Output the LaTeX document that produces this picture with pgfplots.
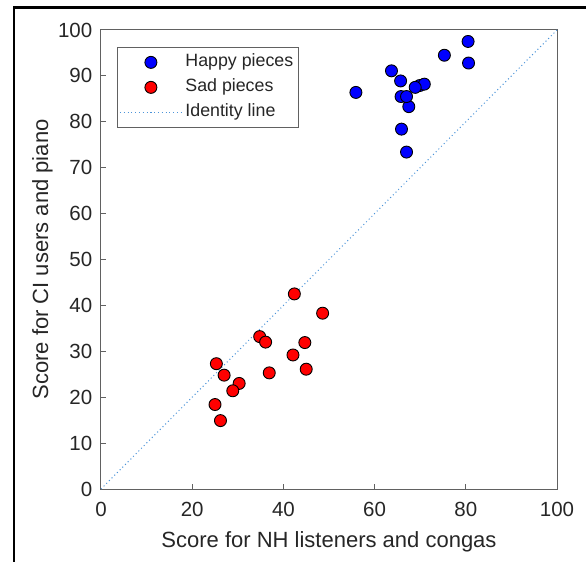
\documentclass[border=0pt]{standalone}
\usepackage{fontspec}
\setmainfont{Liberation Sans}
\usepackage{pgfplots}
\pgfplotsset{compat=1.18}
\definecolor{txt}{rgb}{0.15,0.15,0.15}
\definecolor{axc}{rgb}{0.38,0.38,0.38}
\definecolor{idl}{rgb}{0.3,0.58,0.85}
\begin{document}
\begin{tikzpicture}[x=1bp,y=1bp]
\useasboundingbox (-101,-73) rectangle (485,489);
\draw[line width=2.2bp] (-87,-73) -- (-87,481.5) -- (485,481.5);
\begin{axis}[
  at={(0,0)}, anchor=south west,
  scale only axis, width=456bp, height=459bp,
  xmin=0, xmax=100, ymin=0, ymax=100,
  xtick={0,20,...,100}, ytick={0,10,...,100},
  tick align=inside, xtick pos=bottom, ytick pos=left,
  major tick length=5bp,
  axis line style={axc, line width=1bp},
  every tick/.style={axc, line width=1bp},
  /pgf/number format/assume math mode=true,
  ticklabel style={font=\fontsize{20.5bp}{24bp}\selectfont, text=txt, inner sep=0pt},
  xticklabel style={anchor=north, yshift=-13bp},
  yticklabel style={anchor=east, xshift=-8.5bp},
  xlabel={Score for NH listeners and congas},
  ylabel={Score for CI users and piano},
  every axis x label/.style={at={(axis description cs:0.5,-0.1264)}, anchor=base},
  every axis y label/.style={at={(axis description cs:-0.1162,0.5)}, anchor=base, rotate=90},
  label style={font=\fontsize{22bp}{26bp}\selectfont, text=txt, inner sep=0pt},
  legend style={at={(axis description cs:0.0351,0.963)}, anchor=north west,
    draw=axc, line width=0.8bp, fill=white,
    font=\fontsize{17.8bp}{21bp}\selectfont, text=txt,
    inner xsep=2bp, inner ysep=6.5bp, row sep=8bp,
    nodes={inner xsep=3bp, inner ysep=0pt, text height=13bp, text depth=4bp}},
  legend cell align=left,
  legend image code/.code={\draw[mark repeat=2,mark phase=2,#1] plot coordinates {(0bp,0bp) (31bp,0bp) (62bp,0bp)};},
]
\addplot[only marks, mark=*, mark size=6bp, mark options={fill=blue, draw=black, line width=0.9bp}]
coordinates {
(80.5,97.5) (80.6,92.8) (75.3,94.5) (63.7,91.1) (65.7,88.9) (69.9,87.9)
(70.9,88.2) (68.9,87.5) (65.8,85.5) (67.5,83.3) (67.0,85.5) (55.9,86.4)
(65.9,78.4) (67.0,73.4)
};
\addlegendentry{Happy pieces}
\addplot[only marks, mark=*, mark size=6bp, mark options={fill=red, draw=black, line width=0.9bp}]
coordinates {
(42.4,42.5) (48.6,38.3) (34.8,33.2) (36.1,32.0) (44.7,31.9) (42.1,29.2)
(25.3,27.3) (27.0,24.8) (36.9,25.3) (45.0,26.1) (30.3,23.0) (28.9,21.4)
(25.0,18.4) (26.2,14.9)
};
\addlegendentry{Sad pieces}
\addplot[idl, line width=1bp, dash pattern=on 1bp off 2.8bp] coordinates {(0,0) (100,100)};
\addlegendentry{Identity line}
\end{axis}
\end{tikzpicture}
\end{document}
